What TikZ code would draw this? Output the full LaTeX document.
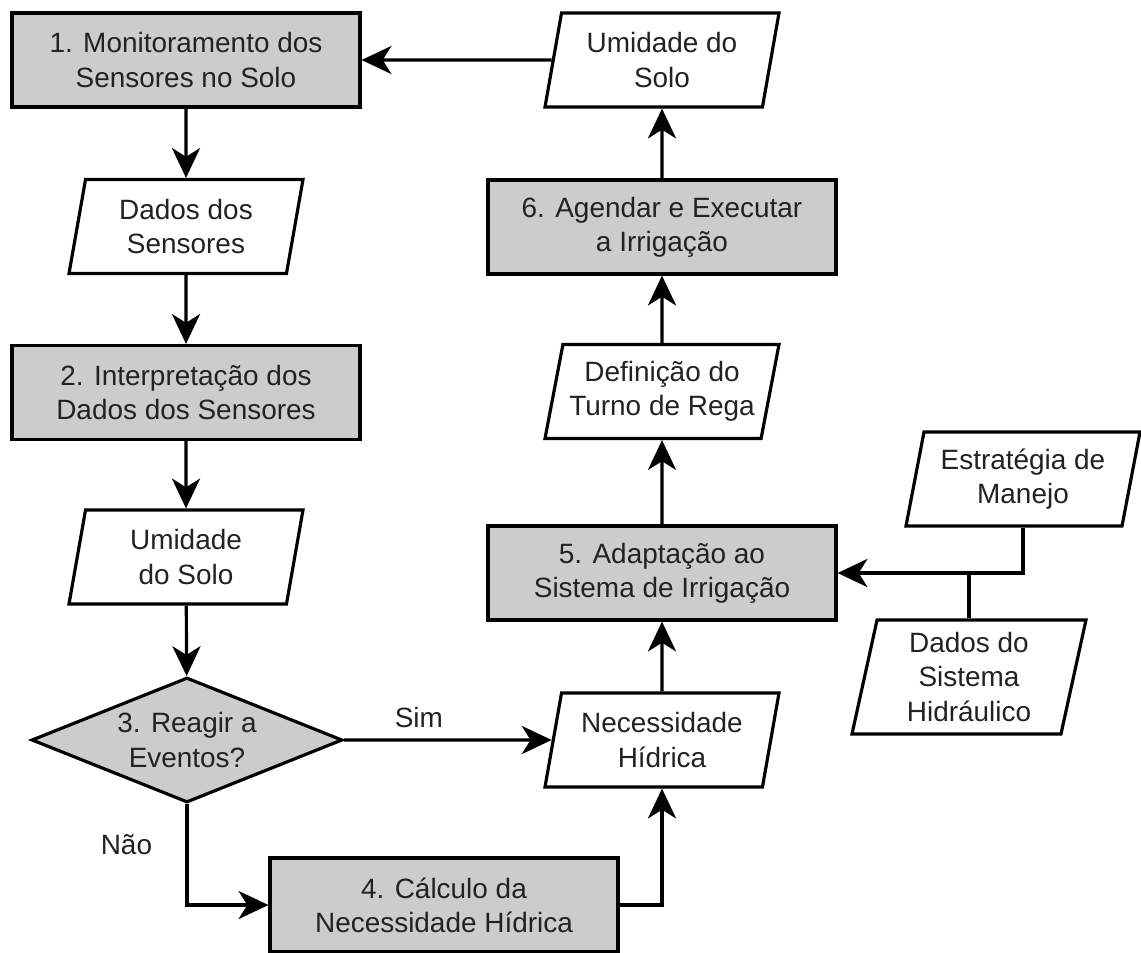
\documentclass[tikz,border=0pt]{standalone}
\usepackage{fontspec}
\setmainfont{Liberation Sans}
\usetikzlibrary{shapes.geometric,arrows.meta}

\definecolor{cinza}{HTML}{CCCCCC}
\definecolor{texto}{HTML}{222222}

\begin{document}
\begin{tikzpicture}[
        font=\fontsize{15.9}{19.4}\selectfont,
        every node/.style={text=texto, align=center},
        etapa/.style={draw, fill=cinza, line width=1.8pt, minimum width=6.96cm, minimum height=1.88cm},
        dado/.style={draw, fill=white, trapezium, trapezium left angle=76, trapezium right angle=104,
            trapezium stretches body, line width=1.8pt, minimum width=4.68cm, minimum height=1.88cm},
        decisao/.style={draw, fill=cinza, diamond, aspect=2.5, inner sep=0pt, line width=1.8pt,
            minimum width=6.22cm, minimum height=2.5cm},
        seta/.style={-{Stealth[length=17pt,width=16pt,inset=5pt]}, line width=1.8pt},
        linha/.style={line width=1.8pt}
    ]
        \useasboundingbox (0,0) rectangle (22.82,-19.04);

        % Coluna da esquerda
        \node[etapa] (n1) at (3.72, -1.2) {1. Monitoramento dos\\Sensores no Solo};
        \node[dado] (dds) at (3.72, -4.53) {Dados dos\\Sensores};
        \node[etapa] (n2) at (3.72, -7.85) {2. Interpretação dos\\Dados dos Sensores};
        \node[dado] (ume) at (3.72, -11.14) {Umidade\\do Solo};
        \node[decisao] (n3) at (3.74, -14.8) {3. Reagir a\\Eventos?};
        \node[etapa] (n4) at (8.88, -18.1) {4. Cálculo da\\Necessidade Hídrica};

        % Coluna da direita
        \node[dado] (nec) at (13.24, -14.8) {Necessidade\\Hídrica};
        \node[etapa] (n5) at (13.24, -11.46) {5. Adaptação ao\\Sistema de Irrigação};
        \node[dado] (dtr) at (13.24, -7.83) {Definição do\\Turno de Rega};
        \node[etapa] (n6) at (13.24, -4.54) {6. Agendar e Executar\\a Irrigação};
        \node[dado] (umd) at (13.24, -1.2) {Umidade do\\Solo};

        % Entradas
        \node[dado] (est) at (20.46, -9.58) {Estratégia de\\Manejo};
        \node[dado, minimum height=2.28cm] (dsh) at (19.38, -13.54) {Dados do\\Sistema\\Hidráulico};

        % Setas
        \foreach \a/\b in {n1/dds, dds/n2, n2/ume, ume/n3, nec/n5, n5/dtr, dtr/n6, n6/umd, umd/n1} {
            \draw[seta] (\a) -- (\b);
        }
        \draw[seta] (n3) -- (nec) node[pos=0.36, above=3pt] {Sim};
        \draw[seta] (n3.south) |- (n4.west) node[pos=0.2, left=0.55cm] {Não};
        \draw[seta] (n4.east) -| (nec.south);
        \draw[seta] (est.south) |- (n5.east);
        \draw[linha] (dsh.north) -- (dsh.north |- n5.east);
    \end{tikzpicture}
\end{document}
